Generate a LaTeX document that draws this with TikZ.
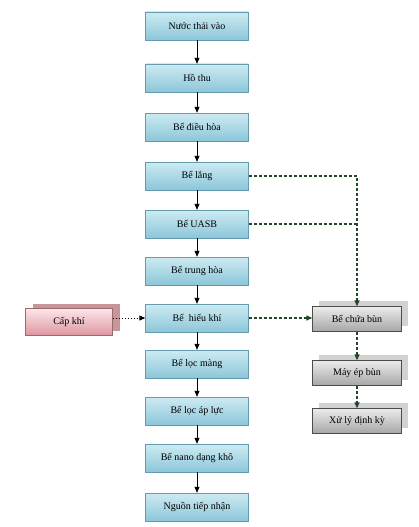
\documentclass[tikz,border=0pt]{standalone}
\usepackage{fontspec}
\setmainfont{Liberation Serif}
\usetikzlibrary{arrows.meta,shadows}

\definecolor{stagetop}{RGB}{205,235,243}
\definecolor{stagebot}{RGB}{140,198,216}
\definecolor{stageline}{RGB}{100,155,175}
\definecolor{airtop}{RGB}{252,230,232}
\definecolor{airbot}{RGB}{222,150,160}
\definecolor{airback}{RGB}{200,150,152}
\definecolor{sludgeink}{RGB}{35,70,40}

\tikzset{
  stage/.style={draw=stageline, top color=stagetop, bottom color=stagebot,
    minimum width=103pt, minimum height=28pt, inner sep=0pt,
    font=\fontsize{10}{12}\selectfont},
  sludge/.style={draw=gray!60!black, top color=gray!15, bottom color=gray!70,
    minimum width=89pt, minimum height=25pt, inner sep=0pt,
    font=\fontsize{10}{12}\selectfont,
    copy shadow={shadow xshift=6pt, shadow yshift=6pt, fill=gray!35, draw=none}},
  air/.style={draw=airbot!70!black, top color=airtop, bottom color=airbot,
    minimum width=87pt, minimum height=27pt, inner sep=0pt,
    font=\fontsize{10}{12}\selectfont,
    copy shadow={shadow xshift=7pt, shadow yshift=5pt, fill=airback, draw=none}},
  flow/.style={-{Triangle[length=6pt,width=5pt]}, line width=0.8pt},
  sludgeline/.style={dash pattern=on 3pt off 2pt, line width=1.3pt, draw=sludgeink},
  sludgeflow/.style={sludgeline, -{Triangle[length=6pt,width=5pt]}},
}

\begin{document}
\begin{tikzpicture}[x=1pt,y=-1pt]
\useasboundingbox (0,0) rectangle (418,527);
% main treatment line
\node[stage] (nuoc)     at (197,26)  {Nước thải vào};
\node[stage] (hothu)    at (197,78)  {Hồ thu};
\node[stage] (dieuhoa)  at (197,127) {Bể điều hòa};
\node[stage] (lang)     at (197,176) {Bể lắng};
\node[stage] (uasb)     at (197,224) {Bể UASB};
\node[stage] (trunghoa) at (197,271) {Bể trung hòa};
\node[stage] (hieukhi)  at (197,318) {Bể~ hiếu khí};
\node[stage] (locmang)  at (197,364) {Bể lọc màng};
\node[stage] (locapluc) at (197,411) {Bể lọc áp lực};
\node[stage] (nano)     at (197,458) {Bể nano dạng khô};
\node[stage] (tiepnhan) at (197,507) {Nguồn tiếp nhận};
% air and sludge
\node[air] (capkhi) at (69,322) {Cấp khí};
\node[sludge] (chuabun) at (357,319) {Bể chứa bùn};
\node[sludge] (epbun)   at (357,373) {Máy ép bùn};
\node[sludge] (xuly)    at (357,421) {Xử lý định kỳ};

\foreach \a/\b in {nuoc/hothu, hothu/dieuhoa, dieuhoa/lang, lang/uasb,
  uasb/trunghoa, trunghoa/hieukhi, hieukhi/locmang, locmang/locapluc,
  locapluc/nano, nano/tiepnhan}
  \draw[flow] (\a) -- (\b);

\draw[sludgeflow] (lang.east) -| (chuabun.north);
\draw[sludgeline] (uasb.east) -- (uasb.east -| chuabun.north);
\draw[sludgeflow] (hieukhi.east) -- (hieukhi.east -| chuabun.west);
\draw[sludgeflow] (chuabun) -- (epbun);
\draw[sludgeflow] (epbun) -- (xuly);
\draw[dotted, line width=1pt, -{Triangle[length=6pt,width=5pt]}] (hieukhi.west -| capkhi.east) -- (hieukhi.west);
\end{tikzpicture}
\end{document}
